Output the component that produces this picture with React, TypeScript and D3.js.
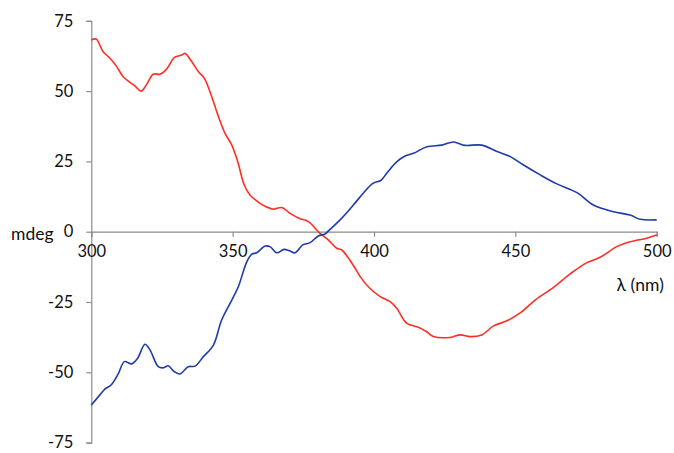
import React, { useEffect, useRef } from "react";
import * as d3 from "d3";

// wavelengths (nm) and ellipticity (mdeg)
const redWavelength = [
  300, 301.7, 304.2, 306.6, 309, 311.3, 315.5, 317.6, 319.6, 321.9, 324.3, 326.7,
  329.4, 332, 333.2, 335.5, 337.9, 340, 342.6, 345, 347.3, 349.7, 351.8, 354.1,
  356.2, 359.7, 362, 364.4, 367.4, 370.3, 373.9, 376.8, 380.9, 383.9, 386.8,
  388.6, 392.7, 395.5, 398.6, 402.2, 405.7, 408.1, 411.6, 415.7, 418.5, 421,
  426.9, 430.5, 434, 438.1, 442.3, 447, 451.7, 457, 463.5, 469.4, 475.3, 480,
  485.9, 490.6, 496.5, 500,
];
const redMdeg = [
  68.2, 68.5, 64.0, 61.7, 58.7, 55.1, 51.8, 50.0, 52.4, 56.0, 56.0, 57.9, 62.0,
  62.8, 63.4, 60.5, 56.9, 54.5, 48.0, 40.9, 35.0, 30.8, 24.9, 16.6, 13.0, 10.1,
  8.8, 8.0, 8.6, 6.5, 4.6, 3.6, -0.6, -3.0, -5.9, -6.5, -12.0, -16.5, -20.2,
  -23.1, -24.9, -27.3, -32.6, -34.0, -35.5, -37.3, -37.6, -36.7, -37.3, -36.7,
  -33.5, -31.7, -28.9, -24.3, -19.8, -15.0, -11.0, -9.1, -5.3, -3.6, -2.3, -1.2,
];

const blueWavelength = [
  300, 302.5, 304.8, 307, 309.6, 311.7, 314.3, 316.4, 319, 320.8, 323.7, 325.5,
  327.2, 329.4, 331.4, 334.3, 336.7, 339.6, 343.2, 346.1, 349.7, 352, 355, 356.8,
  358.5, 361.5, 363.2, 365.6, 368.2, 370.1, 372.1, 374.8, 377.4, 380.3, 382.7,
  383.9, 388, 392.7, 396.2, 399.6, 402.5, 404.5, 408.1, 411, 414, 418.7, 424,
  428.1, 432.2, 438.1, 443.5, 448.2, 452.9, 458.8, 464.7, 471.8, 477.6, 484.7,
  490.6, 494.2, 500,
];
const blueMdeg = [
  -61.6, -58.7, -56.0, -54.5, -50.4, -46.2, -47.0, -45.0, -40.0, -42.1, -48.0,
  -48.4, -47.7, -49.8, -50.6, -48.0, -47.8, -44.5, -40.3, -31.4, -24.3, -19.6,
  -10.7, -8.0, -7.5, -5.1, -5.3, -7.5, -6.3, -6.8, -7.5, -4.7, -3.9, -1.5, -0.8,
  0.3, 4.2, 9.5, 13.7, 17.2, 18.3, 20.8, 24.9, 26.9, 27.9, 30.2, 30.8, 31.9,
  30.7, 30.8, 28.5, 26.7, 23.7, 20.2, 17.0, 13.9, 9.5, 7.1, 5.9, 4.4, 4.2,
];

const xTicks = [300, 350, 400, 450, 500];
const yTicks = [-75, -50, -25, 0, 25, 50, 75];

const width = 674;
const height = 453;
const font = "Lato, 'Open Sans', sans-serif";

const App = () => {
  const ref = useRef<SVGSVGElement>(null);

  useEffect(() => {
    const svg = d3.select(ref.current);
    svg.selectAll("*").remove();

    const x = d3.scaleLinear().domain([300, 500]).range([91.3, 656.7]);
    const y = d3.scaleLinear().domain([-75, 75]).range([442.6, 20.8]);

    // y axis on the left edge of the plot
    const yAxis = svg
      .append("g")
      .attr("transform", `translate(${x(300)},0)`)
      .call(
        d3
          .axisLeft(y)
          .tickValues(yTicks)
          .tickSize(5)
          .tickPadding(13)
          .tickFormat((d) => String(d))
      );

    // x axis runs through zero
    const xAxis = svg
      .append("g")
      .attr("transform", `translate(0,${y(0)})`)
      .call(
        d3
          .axisBottom(x)
          .tickValues(xTicks)
          .tickSize(5)
          .tickPadding(9)
          .tickFormat((d) => String(d))
      );

    [yAxis, xAxis].forEach((g) => {
      g.select(".domain").attr("stroke", "#8c8c8c").attr("stroke-width", 1.2);
      g.selectAll(".tick line").attr("stroke", "#8c8c8c").attr("stroke-width", 1.2);
      g.selectAll(".tick text")
        .attr("fill", "#111")
        .style("font-family", font)
        .style("font-size", "16.5px");
    });

    const line = (xs: number[], ys: number[]) =>
      d3
        .line<number>()
        .x((d) => x(d))
        .y((_, i) => y(ys[i]))
        .curve(d3.curveCatmullRom.alpha(0.5))(xs);

    svg
      .append("path")
      .attr("d", line(redWavelength, redMdeg))
      .attr("fill", "none")
      .attr("stroke", "#ff2d24")
      .attr("stroke-width", 1.6);

    svg
      .append("path")
      .attr("d", line(blueWavelength, blueMdeg))
      .attr("fill", "none")
      .attr("stroke", "#1f3ba6")
      .attr("stroke-width", 1.6);

    svg
      .append("text")
      .attr("x", 11)
      .attr("y", 240)
      .style("font-family", font)
      .style("font-size", "17.5px")
      .attr("fill", "#111")
      .text("mdeg");

    svg
      .append("text")
      .attr("x", 664)
      .attr("y", 291)
      .attr("text-anchor", "end")
      .style("font-family", font)
      .style("font-size", "17.5px")
      .attr("fill", "#111")
      .text("λ (nm)");
  }, []);

  return (
    <div style={{ position: "absolute", left: 0, top: 0 }}>
      <svg ref={ref} width={width} height={height} style={{ display: "block", background: "#fff" }}></svg>
    </div>
  );
};

export default App;
